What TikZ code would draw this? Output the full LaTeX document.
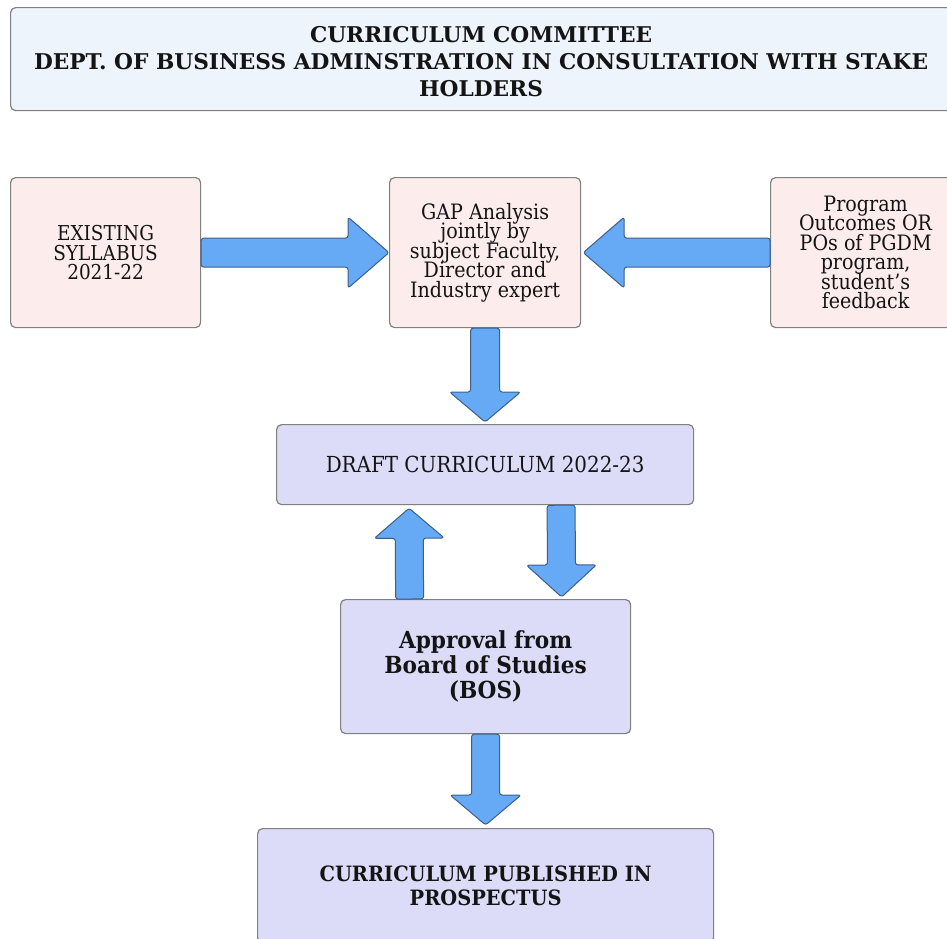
\documentclass[tikz,border=0pt]{standalone}
\usepackage{fontspec}
\setmainfont{DejaVu Serif}[FakeStretch=0.9]
\newfontfamily\boldf{DejaVu Serif}[FakeStretch=0.92]
\newfontfamily\titlef{DejaVu Serif}
\setlength\lineskiplimit{-50pt}
\usetikzlibrary{calc}
\definecolor{titlefill}{HTML}{EEF4FC}
\definecolor{pinkfill}{HTML}{FCEDEC}
\definecolor{lavfill}{HTML}{DCDCF9}
\definecolor{boxline}{HTML}{808080}
\definecolor{arrowfill}{HTML}{66A9F4}
\definecolor{arrowline}{HTML}{3D5F8A}
\definecolor{txt}{HTML}{141414}
\tikzset{
  box/.style={draw=boxline, line width=1.2pt, rounded corners=5pt, anchor=north west,
    inner sep=0pt, align=center, text=txt},
  pinkbox/.style={box, fill=pinkfill},
  lavbox/.style={box, fill=lavfill},
  barrow/.style={draw=arrowline, fill=arrowfill, line width=1pt, rounded corners=2.5pt, line join=round},
  smalltxt/.style={font=\fontsize{21.2pt}{19.5pt}\selectfont},
}
\newcommand\blockarrow[5]{%
  \path ($(#2)!#5!(#1)$) coordinate (hb);
  \draw[barrow] ($(#1)!#3!90:(#2)$) -- ($(hb)!#3!90:(#2)$) -- ($(hb)!#4!90:(#2)$) -- (#2)
    -- ($(hb)!#4!-90:(#2)$) -- ($(hb)!#3!-90:(#2)$) -- ($(#1)!#3!-90:(#2)$) -- cycle;
}
\begin{document}
\begin{tikzpicture}[x=1pt, y=-1pt]
\useasboundingbox (0,0) rectangle (947,938);
\fill[white] (0,0) rectangle (947,938);

\node[box, fill=titlefill, minimum width=941pt, minimum height=103pt,
  font=\titlef\bfseries\fontsize{21.7pt}{27pt}\selectfont] (title) at (10,7)
  {\rule{0pt}{21pt}CURRICULUM COMMITTEE\\DEPT. OF BUSINESS ADMINSTRATION IN CONSULTATION WITH STAKE\\HOLDERS};

\node[pinkbox, font=\fontsize{20.5pt}{19.5pt}\selectfont, minimum width=190pt, minimum height=150pt] (ex) at (10,177)
  {EXISTING\\SYLLABUS\\2021-22};
\node[pinkbox, smalltxt, minimum width=191pt, minimum height=150pt] (gap) at (389,177)
  {GAP Analysis\\jointly by\\subject Faculty,\\Director and\\Industry expert};
\node[pinkbox, smalltxt, minimum width=190pt, minimum height=150pt] (po) at (770,177)
  {Program\\Outcomes OR\\POs of PGDM\\program,\\student’s\\feedback};

\node[lavbox, font=\fontsize{22.1pt}{26pt}\selectfont, minimum width=417pt, minimum height=80pt] (draft) at (276,424)
  {DRAFT CURRICULUM 2022-23};
\node[lavbox, font=\boldf\bfseries\fontsize{23.5pt}{25pt}\selectfont, minimum width=290pt, minimum height=134pt] (appr) at (340,599)
  {Approval from\\Board of Studies\\(BOS)};
\node[lavbox, font=\boldf\bfseries\fontsize{21.1pt}{24pt}\selectfont, minimum width=456pt, minimum height=114pt] (pub) at (257,828)
  {CURRICULUM PUBLISHED IN\\PROSPECTUS};

% connectors
\coordinate (t2) at ($(gap.east)+(2,0)$);
\coordinate (t3) at ($(draft.north)+(0,-2)$);
\coordinate (s4) at ($(draft.south)+(76,0)$);
\coordinate (t4) at ($(appr.north)+(76,-2)$);
\coordinate (s5) at ($(appr.north)+(-76,0)$);
\coordinate (t5) at ($(draft.south)+(-76,3)$);
\coordinate (t6) at ($(pub.north)+(0,-3)$);

\blockarrow{ex.east}{gap.west}{14.5pt}{35.5pt}{41pt}
\blockarrow{po.west}{t2}{14.5pt}{35.5pt}{41pt}
\blockarrow{gap.south}{t3}{14.5pt}{35.5pt}{30pt}
\blockarrow{s4}{t4}{14pt}{35pt}{32pt}
\blockarrow{s5}{t5}{14pt}{35pt}{30pt}
\blockarrow{appr.south}{t6}{14pt}{35.5pt}{30pt}
\end{tikzpicture}
\end{document}
